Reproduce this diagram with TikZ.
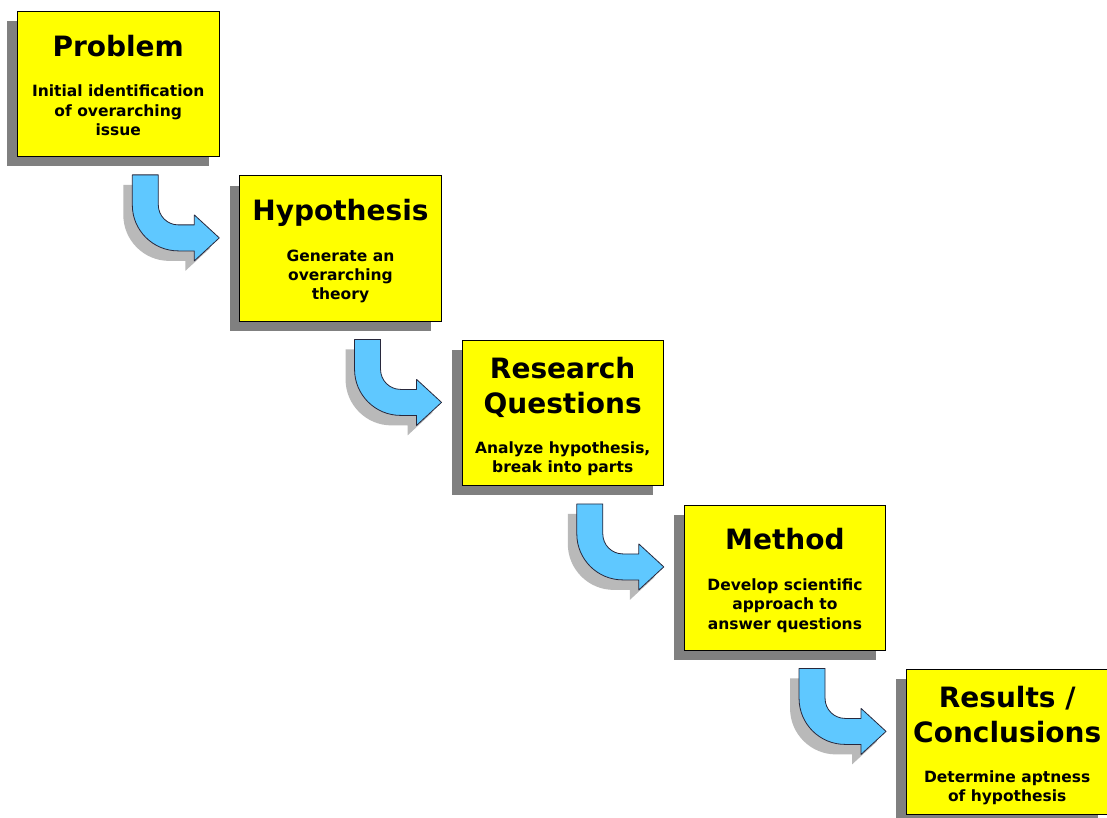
\documentclass[tikz,border=0pt]{standalone}
\usepackage{fontspec}
\setmainfont{DejaVu Sans}
\usetikzlibrary{shadows,calc}
\definecolor{boxyellow}{RGB}{255,255,0}
\definecolor{boxshade}{RGB}{128,128,128}
\definecolor{arrowblue}{RGB}{95,200,255}
\definecolor{arrowshade}{RGB}{185,185,185}
\definecolor{arrowline}{RGB}{40,40,60}

\begin{document}
\begin{tikzpicture}[x=1pt,y=-1pt,
  stepbox/.style={draw=black, line width=0.9pt, fill=boxyellow,
    minimum width=201.5pt, minimum height=145pt, inner sep=0pt, anchor=north west,
    general shadow={fill=boxshade, shadow xshift=-10pt, shadow yshift=-10pt}},
  title/.style={font=\bfseries\fontsize{28}{35}\selectfont, align=center,
    anchor=north, inner sep=0pt},
  body/.style={font=\bfseries\fontsize{15.5}{19.3}\selectfont, align=center,
    anchor=north, inner sep=0pt},
  % bent arrow outline: stem down, quarter turn, head pointing right
  bendpath/.style={insert path={(0,0) -- (26,0) -- (26,30)
    arc[start angle=180,end angle=90,radius=20] -- (62,50) -- (62,40)
    -- (87,63) -- (62,86) -- (62,76) -- (46,76)
    arc[start angle=90,end angle=180,radius=46] -- cycle}},
  pics/bendarrow/.style={code={
    \fill[arrowshade, shift={(-9,10)}, bendpath];
    \filldraw[fill=arrowblue, draw=arrowline, line width=0.8pt,
      line join=round, bendpath];
  }}
]
\fill[white] (0,0) rectangle (1107,818);
\useasboundingbox (0,0) rectangle (1107,818);

% steps
\node[stepbox] (b0) at (17,11) {};
\node[stepbox] (b1) at (239.25,175.5) {};
\node[stepbox] (b2) at (461.5,340) {};
\node[stepbox] (b3) at (683.75,504.5) {};
\node[stepbox] (b4) at (906,669) {};

% arrows between steps
\pic (a0) at ($(b0.south west)+(115.3,18)$) {bendarrow};
\pic (a1) at ($(b1.south west)+(115.3,18)$) {bendarrow};
\pic (a2) at ($(b2.south west)+(115.3,18)$) {bendarrow};
\pic (a3) at ($(b3.south west)+(115.3,18)$) {bendarrow};

% titles and descriptions
\node[title] (t0) at ($(b0.north)+(0,23.7)$) {Problem};
\node[body]  (d0) at ($(b0.north)+(0,74)$) {Initial identification\\of overarching\\issue};

\node[title] (t1) at ($(b1.north)+(0,23.7)$) {Hypothesis};
\node[body]  (d1) at ($(b1.north)+(0,74)$) {Generate an\\overarching\\theory};

\node[title] (t2) at ($(b2.north)+(0,17)$) {Research\\Questions};
\node[body]  (d2) at ($(b2.north)+(0,101.7)$) {Analyze hypothesis,\\break into parts};

\node[title] (t3) at ($(b3.north)+(0,23.7)$) {Method};
\node[body]  (d3) at ($(b3.north)+(0,74)$) {Develop scientific\\approach to\\answer questions};

\node[title] (t4) at ($(b4.north)+(0,17)$) {Results /\\Conclusions};
\node[body]  (d4) at ($(b4.north)+(0,101.7)$) {Determine aptness\\of hypothesis};
\end{tikzpicture}
\end{document}
